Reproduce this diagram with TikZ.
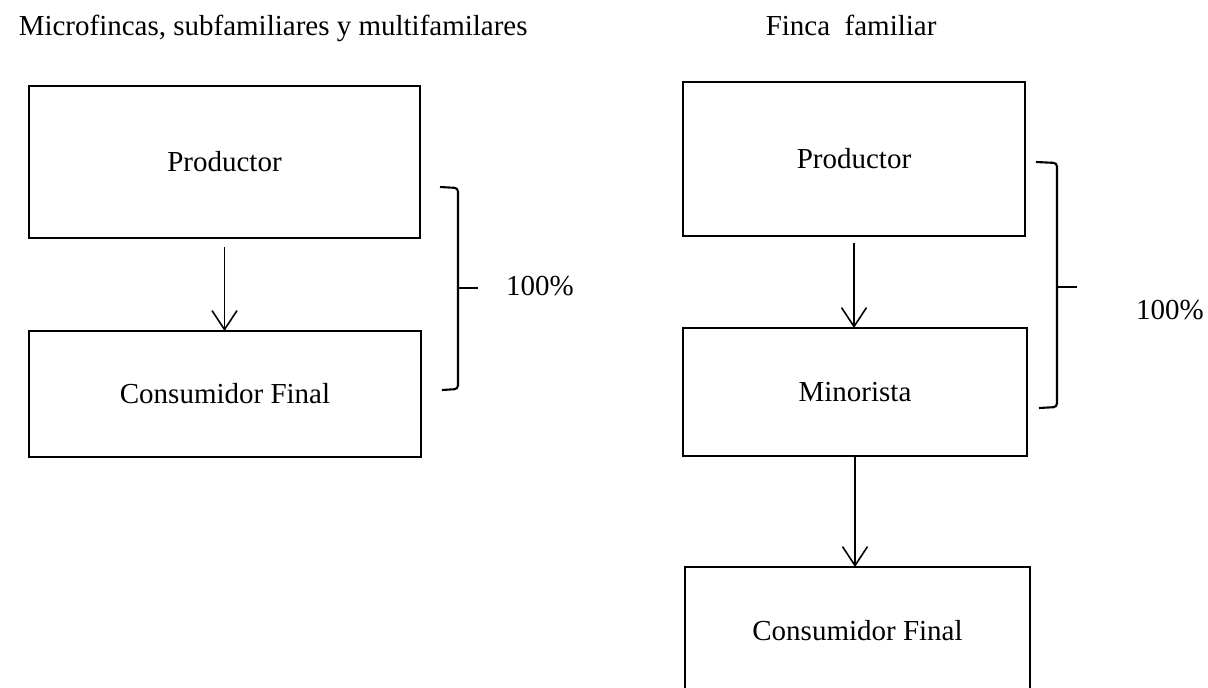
\documentclass[tikz,border=0pt]{standalone}
\usepackage{fontspec}
\setmainfont{Liberation Serif}
\usetikzlibrary{arrows.meta}

\begin{document}
\begin{tikzpicture}[x=0.02cm, y=-0.02cm, line width=0.9pt,
		font=\fontsize{16.5}{20}\selectfont,
		caja/.style={draw, rectangle, inner sep=0pt, outer sep=0pt},
		flecha/.style={-{Straight Barb[length=0.38cm, width=0.5cm]}},
		llave/.style={line width=1.2pt, rounded corners=2pt}]
		\useasboundingbox (0,0) rectangle (1208,687);
		\clip (0,0) rectangle (1208,687);
		% titulos
		\node[anchor=base west, inner sep=0pt] (tituloL) at (18,35) {Microfincas, subfamiliares y multifamilares};
		\node[anchor=base west, inner sep=0pt] (tituloR) at (765,35) {Finca\ \ familiar};
		% canal izquierdo
		\node[caja, minimum width=7.82cm, minimum height=3.04cm] (prodL) at (224.5,162) {Productor};
		\node[caja, minimum width=7.84cm, minimum height=2.52cm] (consL) at (225,394) {Consumidor Final};
		\draw[flecha, shorten <=0.18cm] (prodL.south) -- (prodL.south |- consL.north);
		\draw[llave] (440,187) -- (458,188) -- (458,389) -- (442,390);
		\draw[llave] (458,288) -- (478,288);
		\node (porcL) at (540,286) {100\%};
		% canal derecho
		\node[caja, minimum width=6.84cm, minimum height=3.08cm] (prodR) at (854,159) {Productor};
		\node[caja, minimum width=6.88cm, minimum height=2.56cm] (minR) at (855,392) {Minorista};
		\node[caja, minimum width=6.9cm, minimum height=2.56cm] (consR) at (857.5,631) {Consumidor Final};
		\draw[flecha, shorten <=0.14cm] (prodR.south) -- (prodR.south |- minR.north);
		\draw[flecha] (minR.south) -- (minR.south |- consR.north);
		\draw[llave] (1036,162) -- (1057,163) -- (1057,407) -- (1039,408);
		\draw[llave] (1057,287) -- (1077,287);
		\node (porcR) at (1170,310) {100\%};
\end{tikzpicture}
\end{document}
